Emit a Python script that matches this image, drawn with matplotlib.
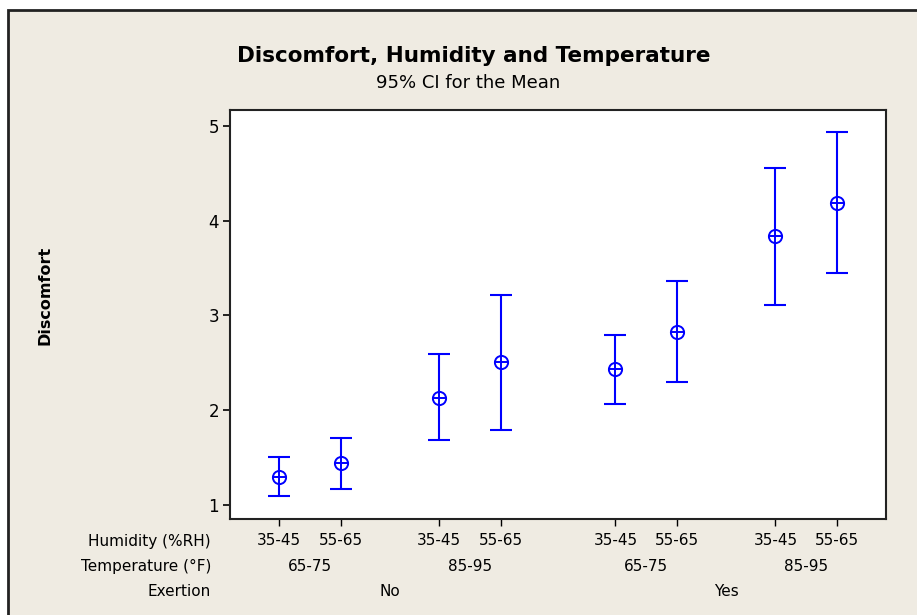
import numpy as np
import matplotlib
matplotlib.use("Agg")
import matplotlib.pyplot as plt
from matplotlib.patches import Rectangle
from matplotlib.transforms import blended_transform_factory

# --- data (Minitab interval plot) ---
humidity = ["35-45", "55-65", "35-45", "55-65", "35-45", "55-65", "35-45", "55-65"]
temperature = ["65-75", "85-95", "65-75", "85-95"]
exertion = ["No", "Yes"]
means = [1.29, 1.44, 2.13, 2.51, 2.43, 2.82, 3.84, 4.19]
lower = [1.09, 1.17, 1.69, 1.79, 2.07, 2.30, 3.11, 3.45]
upper = [1.51, 1.71, 2.59, 3.22, 2.79, 3.36, 4.56, 4.93]

# --- layout of the grouped categories ---
temp_gap = 0.59
ex_gap = 0.86
pos = []
x = 0.0
for i in range(len(humidity)):
    if i > 0:
        x += 1
        if i % 4 == 0:
            x += ex_gap
        elif i % 2 == 0:
            x += temp_gap
    pos.append(x)
pos = np.array(pos)

blue = "#0000ff"
beige = "#efebe2"
plt.rcParams["font.family"] = ["DejaVu Sans"]

fig = plt.figure(figsize=(9.17, 6.15), dpi=100)
fig.patch.set_facecolor("white")
fig.patches.append(Rectangle((8 / 917, -0.1), 1.2, 1 - 10 / 615 + 0.1,
                             transform=fig.transFigure, facecolor=beige,
                             edgecolor="#222222", linewidth=2, zorder=-10))

ax = fig.add_axes([230 / 917, 1 - 519 / 615, 656 / 917, 409 / 615])
ax.set_facecolor("white")

m = np.array(means)
yerr = [m - np.array(lower), np.array(upper) - m]
ax.errorbar(pos, m, yerr=yerr, fmt="none", ecolor=blue, elinewidth=1.5,
            capsize=8, capthick=1.5)
ax.plot(pos, m, "o", ms=9.5, mfc="white", mec=blue, mew=1.4, ls="none")
ax.plot(pos, m, "+", ms=9.5, mec=blue, mew=1.4, ls="none")

ax.set_xlim(-0.79, 9.83)
ax.set_ylim(0.852, 5.167)
ax.set_yticks([1, 2, 3, 4, 5])
ax.tick_params(axis="y", direction="out", length=5, width=1.2, labelsize=12, pad=3)
ax.set_xticks(pos)
ax.set_xticklabels(humidity)
ax.tick_params(axis="x", direction="out", length=5, width=1.0, labelsize=11, pad=5)
for s in ax.spines.values():
    s.set_linewidth(1.5)
    s.set_color("#222222")

# second and third rows of category labels
tr = blended_transform_factory(ax.transData, ax.transAxes)
for j, t in enumerate(temperature):
    ax.text(pos[2 * j:2 * j + 2].mean(), -0.1166, t, transform=tr,
            ha="center", va="center", fontsize=11)
for j, e in enumerate(exertion):
    ax.text(pos[4 * j:4 * j + 4].mean(), -0.1777, e, transform=tr,
            ha="center", va="center", fontsize=11)

row_x = (211 - 230) / 656
for yy, lab in [(-0.0555, "Humidity (%RH)"), (-0.1166, "Temperature (°F)"), (-0.1777, "Exertion")]:
    ax.text(row_x, yy, lab, transform=ax.transAxes, ha="right", va="center", fontsize=11)

fig.text(45 / 917, 1 - 295 / 615, "Discomfort", rotation=90, ha="center", va="center",
         fontsize=11.5, fontweight="bold")
fig.text(474 / 917, 1 - 56 / 615, "Discomfort, Humidity and Temperature",
         ha="center", va="center", fontsize=15.5, fontweight="bold")
fig.text(468 / 917, 1 - 83 / 615, "95% CI for the Mean",
         ha="center", va="center", fontsize=13)

fig.savefig("out.png", dpi=100, facecolor="white")
